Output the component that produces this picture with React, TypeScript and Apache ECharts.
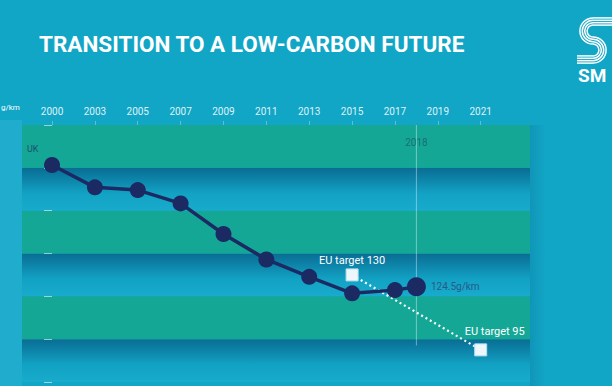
import React, { useEffect, useRef } from "react";
import * as echarts from "echarts";

// ---- data ----
const categories = ["2000", "2003", "2005", "2007", "2009", "2011", "2013", "2015", "2017", "2019", "2021"];
const ukPositions = [0, 1, 2, 3, 4, 5, 6, 7, 8, 8.5];
const ukValues = [181.3, 170.9, 169.6, 163.4, 149.1, 137.2, 129.1, 121.4, 122.9, 124.5];
const ukLastLabel = "124.5g/km";
const ukSeriesLabel = "UK";
const euTargetPositions = [7, 10];
const euTargetValues = [130, 95];
const euTargetLabels = ["EU target 130", "EU target 95"];
const markerYearLabel = "2018";
const markerYearPosition = 8.5;
const yMin = 80;
const yMax = 200;
const yInterval = 20;
const yUnit = "g/km";
const titleText = "TRANSITION TO A LOW-CARBON FUTURE";
const logoText = "SM";

const BG = "#12a6c6";
const TEAL = "#15a796";
const NAVY = "#1c2a63";

export default function App() {
  const ref = useRef<HTMLDivElement>(null);

  useEffect(() => {
    if (!ref.current) return;
    const chart = echarts.init(ref.current, null, { renderer: "svg" });

    const gapGradient = new echarts.graphic.LinearGradient(0, 0, 0, 1, [
      { offset: 0, color: "#0a6d93" },
      { offset: 0.18, color: "#0c7ca2" },
      { offset: 0.6, color: "#12a2c4" },
      { offset: 1, color: "#18abcc" },
    ]);

    // logo stripes (stylised S)
    const logoChildren: any[] = [];
    const cx = 593;
    const R = 9.5;
    const cy1 = 31;
    const cy2 = cy1 + 2 * R;
    [-3.6, -1.2, 1.2, 3.6].forEach((d) => {
      const r1 = R + d;
      const r2 = R - d;
      const stroke = { stroke: "#ffffff", lineWidth: 1.5, fill: null };
      logoChildren.push({ type: "polyline", shape: { points: [[616, cy1 - r1], [cx, cy1 - r1]] }, style: stroke });
      logoChildren.push({
        type: "arc",
        shape: { cx, cy: cy1, r: r1, startAngle: -Math.PI / 2, endAngle: Math.PI / 2, clockwise: false },
        style: stroke,
      });
      logoChildren.push({
        type: "arc",
        shape: { cx, cy: cy2, r: r2, startAngle: -Math.PI / 2, endAngle: Math.PI / 2, clockwise: true },
        style: stroke,
      });
      logoChildren.push({ type: "polyline", shape: { points: [[cx, cy2 + r2], [577, cy2 + r2]] }, style: stroke });
    });

    const ukData = ukPositions.map((x, i) => {
      const item: any = { value: [x, ukValues[i]] };
      if (i === 0) {
        item.label = {
          show: true,
          formatter: ukSeriesLabel,
          position: [-17, -13],
          color: "#1d4f70",
          fontSize: 9,
          fontFamily: "Roboto",
        };
      }
      if (i === ukPositions.length - 1) {
        item.symbolSize = 19;
        item.label = {
          show: true,
          formatter: ukLastLabel,
          position: "right",
          distance: 5,
          color: "#285a88",
          fontSize: 10,
          fontFamily: "Roboto",
        };
      }
      return item;
    });

    const euData = euTargetPositions.map((x, i) => ({
      value: [x, euTargetValues[i]],
      label:
        i === 0
          ? { show: true, formatter: euTargetLabels[i], position: "top", distance: 2 }
          : { show: true, formatter: euTargetLabels[i], position: "top", distance: 4, offset: [14, -2] },
    }));

    chart.setOption({
      animation: false,
      backgroundColor: BG,
      grid: { left: 22, right: 82, top: 125, bottom: 4 },
      xAxis: {
        type: "value",
        position: "top",
        min: -0.7,
        max: 11.15,
        axisLine: { show: false },
        splitLine: { show: false },
        axisTick: {
          show: true,
          customValues: categories.map((_, i) => i),
          length: 4,
          lineStyle: { color: "rgba(255,255,255,0.3)" },
        },
        axisLabel: {
          show: true,
          customValues: categories.map((_, i) => i),
          formatter: (v: number) => categories[Math.round(v)] ?? "",
          color: "rgba(255,255,255,0.88)",
          fontSize: 10,
          fontFamily: "Roboto",
          margin: 9,
        },
      },
      yAxis: {
        type: "value",
        min: yMin,
        max: yMax,
        interval: yInterval,
        axisLine: { show: false },
        axisLabel: { show: false },
        axisTick: { show: true, length: 8, lineStyle: { color: "rgba(255,255,255,0.55)" } },
        splitLine: { show: false },
        splitArea: { show: true, areaStyle: { color: [gapGradient, TEAL] } },
      },
      graphic: [
        {
          type: "rect",
          shape: { x: 530, y: 125, width: 16, height: 261 },
          style: {
            fill: new echarts.graphic.LinearGradient(0, 0, 1, 0, [
              { offset: 0, color: "rgba(8,90,130,0.22)" },
              { offset: 1, color: "rgba(8,90,130,0)" },
            ]),
          },
          silent: true,
        },
        {
          type: "rect",
          shape: { x: 0, y: 120, width: 22, height: 266 },
          style: { fill: "rgba(140,225,245,0.12)" },
          silent: true,
        },
        {
          type: "text",
          x: 39,
          y: 32,
          style: {
            text: titleText,
            fill: "#ffffff",
            font: "bold 22.5px Roboto",
            textVerticalAlign: "top",
          },
        },
        {
          type: "text",
          x: 1,
          y: 107,
          style: {
            text: yUnit,
            fill: "#ffffff",
            font: "8px Roboto",
            textAlign: "left",
            textVerticalAlign: "middle",
          },
        },
        { type: "group", children: logoChildren },
        {
          type: "text",
          x: 578,
          y: 66,
          style: { text: logoText, fill: "#ffffff", font: "bold 19px Roboto", textVerticalAlign: "top" },
        },
      ],
      series: [
        {
          type: "line",
          data: [
            [markerYearPosition, yMax],
            [markerYearPosition, 97],
          ],
          symbol: "none",
          lineStyle: { color: "rgba(255,255,255,0.4)", width: 1 },
          silent: true,
          z: 1,
        },
        {
          type: "scatter",
          data: [
            {
              value: [markerYearPosition, yMax],
              label: {
                show: true,
                formatter: markerYearLabel,
                position: "bottom",
                distance: 12,
                color: "#17606c",
                fontSize: 10,
                fontFamily: "Roboto",
              },
            },
          ],
          symbolSize: 1,
          itemStyle: { color: "rgba(0,0,0,0)" },
          silent: true,
          z: 1,
        },
        {
          type: "line",
          data: euData,
          symbol: "rect",
          symbolSize: 12,
          itemStyle: { color: "#eef7fb", borderColor: "#b8dff0", borderWidth: 1 },
          lineStyle: { color: "#ffffff", width: 2.2, type: [2, 3] },
          label: { color: "#ffffff", fontSize: 11, fontFamily: "Roboto" },
          z: 2,
        },
        {
          type: "line",
          data: ukData,
          symbol: "circle",
          symbolSize: 16,
          itemStyle: { color: NAVY },
          lineStyle: { color: NAVY, width: 3.5 },
          z: 3,
        },
      ],
    });

    return () => chart.dispose();
  }, []);

  return <div ref={ref} style={{ position: "absolute", left: 0, top: 0, width: 612, height: 386 }} />;
}
